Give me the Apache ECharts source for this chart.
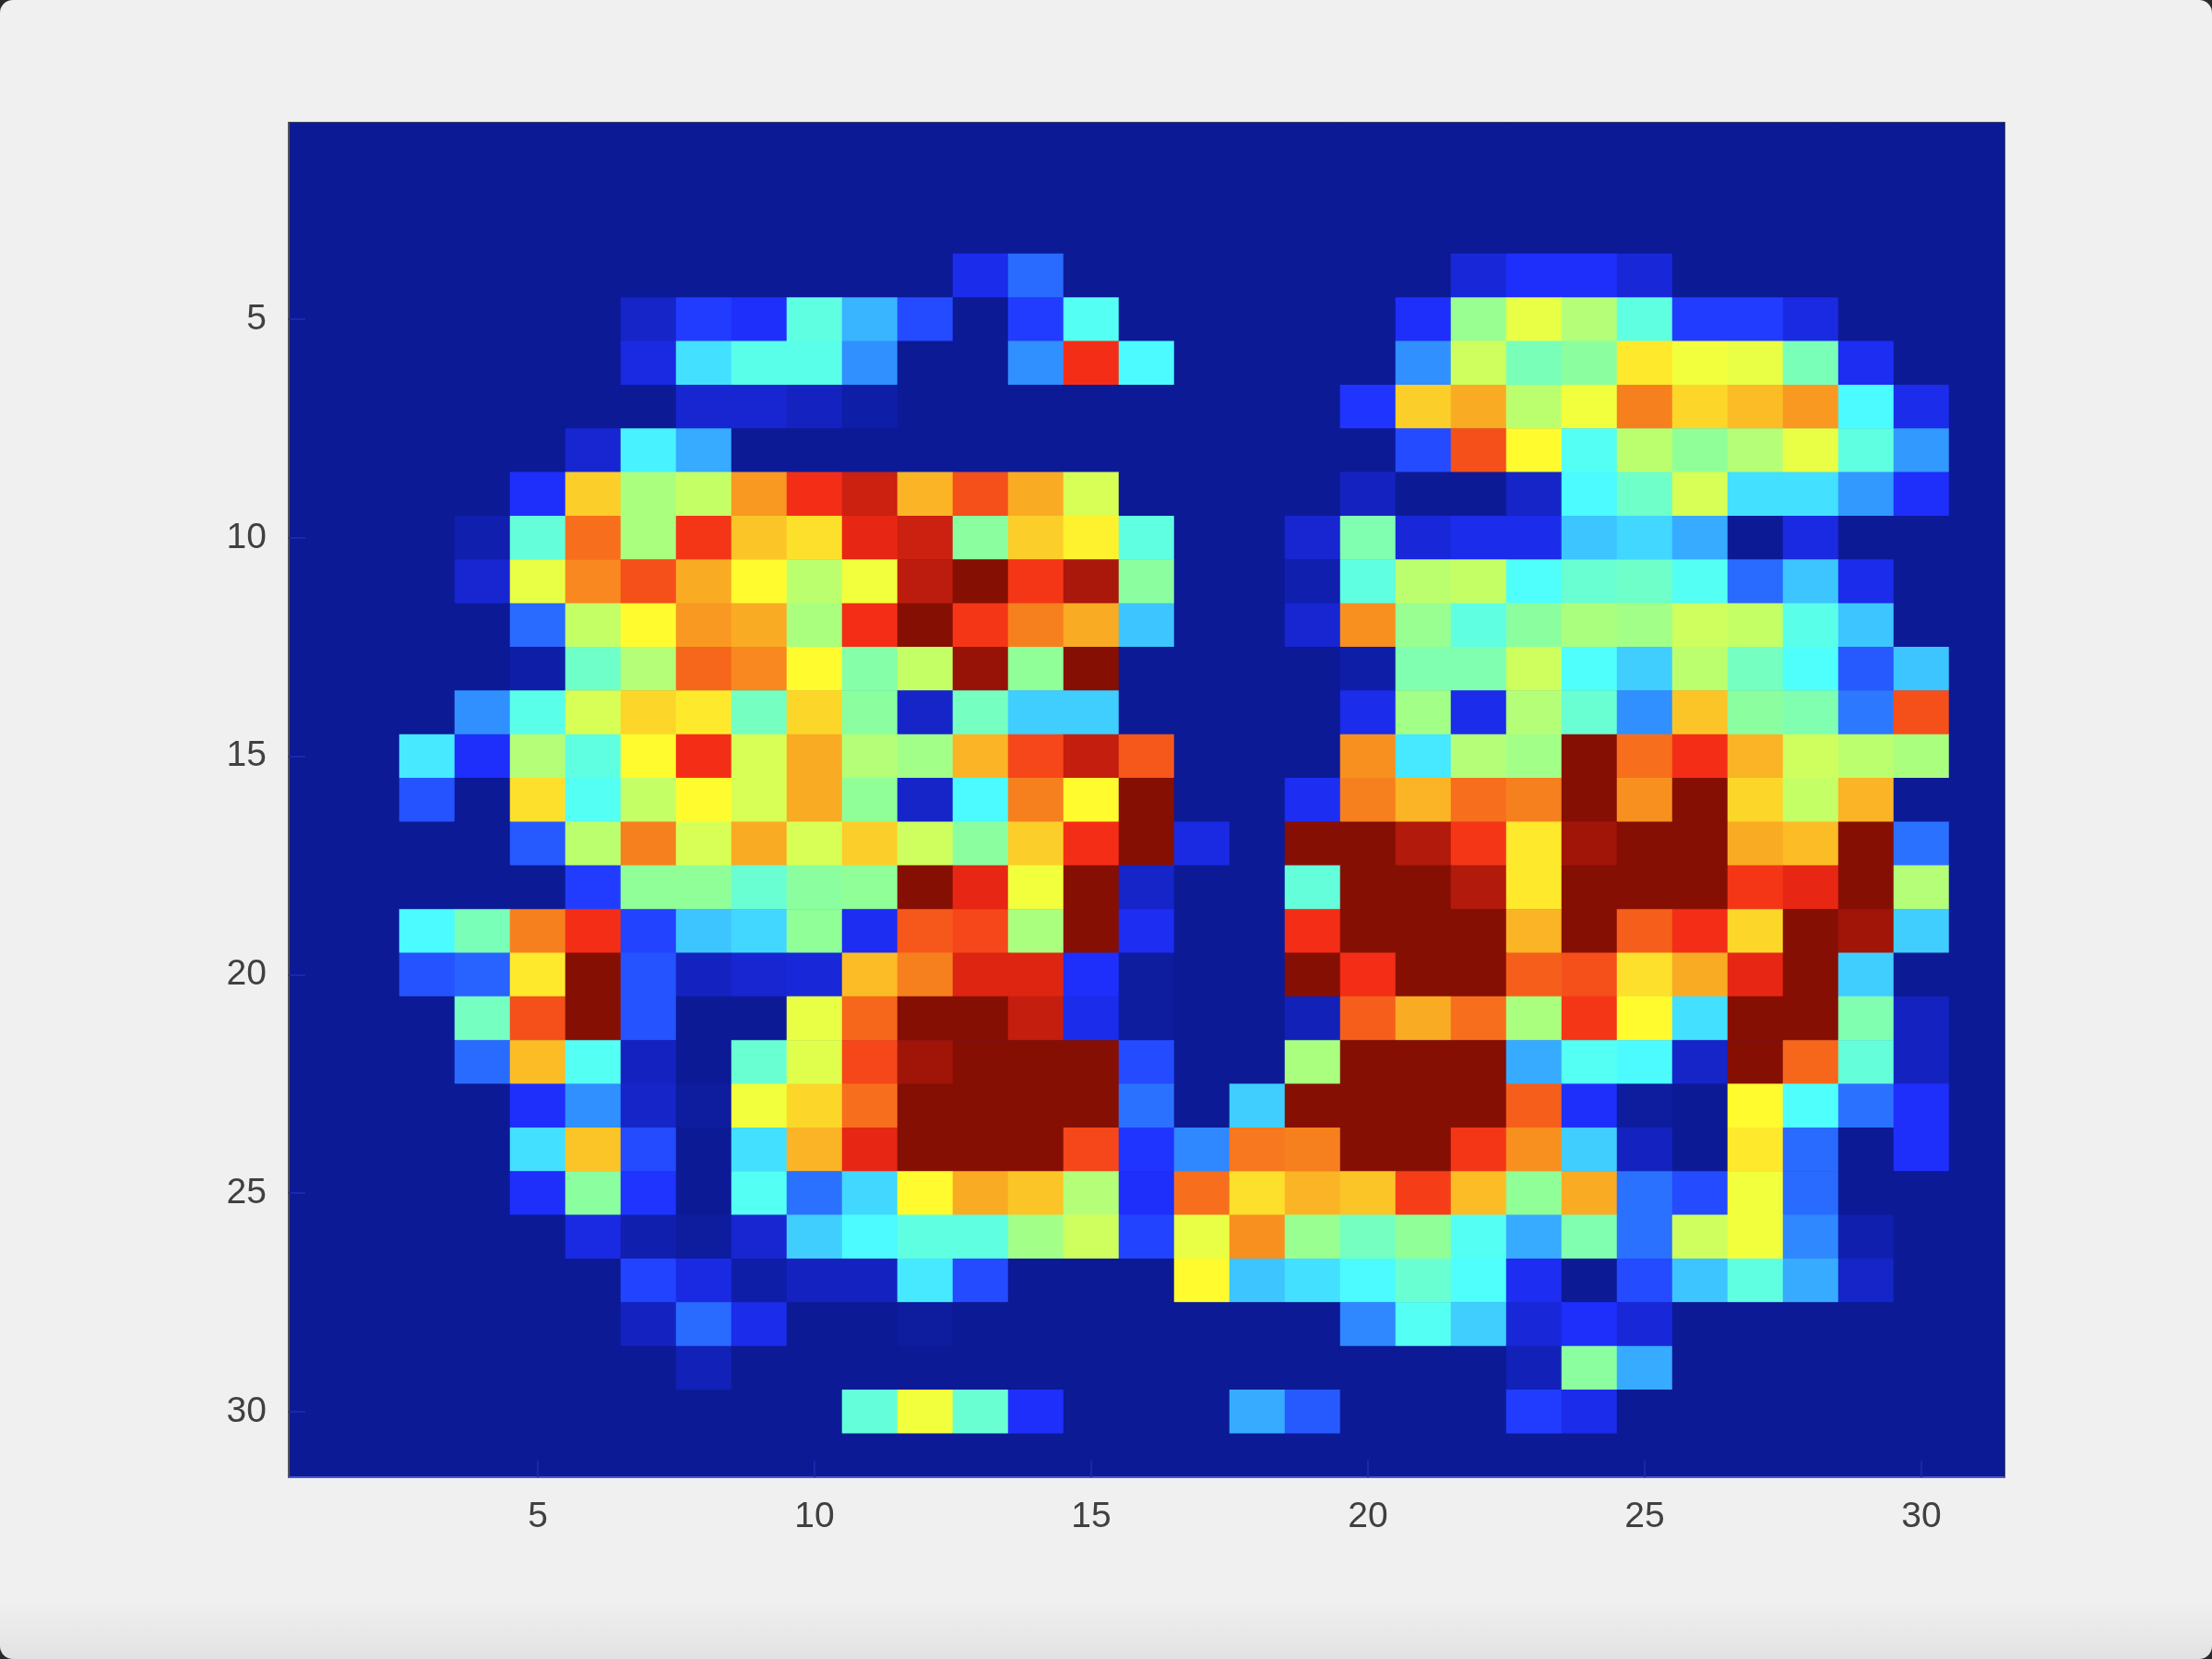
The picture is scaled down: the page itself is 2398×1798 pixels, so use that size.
<!DOCTYPE html>
<html>
<head>
<meta charset="utf-8">
<title>heatmap</title>
<script src="https://cdn.jsdelivr.net/npm/echarts@6/dist/echarts.min.js"></script>
<style>
  html { margin: 0; background: #2a2a2a; }
  body { margin: 0; width: 2398px; height: 1798px; overflow: hidden; border-radius: 14px;
    background: linear-gradient(to bottom, #f0f0f0 0, #f0f0f0 1735px, #e2e2e2 1798px); }
  #chart { width: 2398px; height: 1798px; }
</style>
</head>
<body>
<div id="chart"></div>
<script>
const xCategories = ['1','2','3','4','5','6','7','8','9','10','11','12','13','14','15','16','17','18','19','20','21','22','23','24','25','26','27','28','29','30','31']
const yCategories = ['1','2','3','4','5','6','7','8','9','10','11','12','13','14','15','16','17','18','19','20','21','22','23','24','25','26','27','28','29','30','31']
const tickLabels = ['5','10','15','20','25','30']
// jet-like colours as they look in the screenshot, low to high
const jetColors = ['#0c1a96','#1f30ff','#3090ff','#4cffff','#90ff98','#ffff30','#f89020','#f42a16','#860f04']

// one row per y, one value per x (0-100 on the colour scale)
const gridValues = [
  [0,0,0,0,0,0,0,0,0,0,0,0,0,0,0,0,0,0,0,0,0,0,0,0,0,0,0,0,0,0,0],
  [0,0,0,0,0,0,0,0,0,0,0,0,0,0,0,0,0,0,0,0,0,0,0,0,0,0,0,0,0,0,0],
  [0,0,0,0,0,0,0,0,0,0,0,0,0,0,0,0,0,0,0,0,0,0,0,0,0,0,0,0,0,0,0],
  [0,0,0,0,0,0,0,0,0,0,0,0,10,20,0,0,0,0,0,0,0,8,12,12,8,0,0,0,0,0,0],
  [0,0,0,0,0,0,6,14,12,41,29,16,0,14,39,0,0,0,0,0,12,51,60,54,41,14,14,9,0,0,0],
  [0,0,0,0,0,0,9,34,40,40,25,0,0,25,87,37,0,0,0,0,25,57,46,49,65,61,60,46,11,0,0],
  [0,0,0,0,0,0,0,7,7,5,2,0,0,0,0,0,0,0,0,13,68,72,55,61,77,67,70,74,37,10,0],
  [0,0,0,0,0,7,36,28,0,0,0,0,0,0,0,0,0,0,0,0,16,83,63,39,55,50,54,60,41,26,0],
  [0,0,0,0,12,68,53,56,74,87,92,71,83,72,58,0,0,0,0,5,0,0,6,37,44,58,34,34,26,12,0],
  [0,0,0,3,42,79,53,86,69,66,89,92,49,68,64,41,0,0,7,47,8,10,10,31,33,28,0,9,0,0,0],
  [0,0,0,7,60,76,83,72,63,55,61,94,100,86,96,49,0,0,3,41,55,56,38,43,44,39,20,31,10,0,0],
  [0,0,0,0,20,56,63,74,72,53,87,100,86,77,72,31,0,0,7,75,51,41,49,53,52,57,56,40,31,0,0],
  [0,0,0,0,2,44,54,80,76,63,48,56,98,50,100,0,0,0,0,2,47,47,57,38,32,55,45,38,18,31,0],
  [0,0,0,25,40,58,67,65,45,67,49,6,45,32,32,0,0,0,0,10,52,10,54,43,25,69,49,47,22,83,0],
  [0,0,35,12,54,41,63,87,58,72,54,52,71,84,93,82,0,0,0,75,35,54,52,100,79,87,71,57,55,53,0],
  [0,0,17,0,66,39,56,63,58,72,50,6,37,77,63,100,0,0,11,77,71,79,77,100,75,100,67,56,71,0,0],
  [0,0,0,0,18,55,77,58,72,58,68,57,49,68,87,100,9,0,100,100,95,86,65,97,100,100,72,70,100,21,0],
  [0,0,0,0,0,14,50,50,43,49,50,100,89,61,100,6,0,0,42,100,100,95,65,100,100,100,86,89,100,54,0],
  [0,0,37,46,77,87,15,31,33,50,11,82,84,53,100,11,0,0,87,100,100,100,71,100,81,87,67,100,97,32,0],
  [0,0,17,19,65,100,17,5,7,8,70,77,90,90,12,1,0,0,100,87,100,100,81,83,66,72,89,100,32,0,0],
  [0,0,0,45,83,100,17,0,0,60,80,100,100,93,10,1,0,0,4,81,72,79,53,86,63,34,100,100,47,5,0],
  [0,0,0,20,70,39,5,0,43,59,84,97,100,100,100,16,0,0,53,100,100,100,28,39,37,6,100,80,42,5,0],
  [0,0,0,0,12,25,6,1,61,67,79,100,100,100,100,21,0,32,100,100,100,100,81,12,1,0,63,38,21,12,0],
  [0,0,0,0,34,69,16,0,34,71,89,100,100,100,84,13,24,78,77,100,100,86,75,32,5,0,65,20,0,12,0],
  [0,0,0,0,12,49,13,0,39,21,33,63,72,69,54,12,79,66,71,69,85,70,50,72,21,16,61,20,0,0,0],
  [0,0,0,0,0,9,3,1,7,32,37,41,41,52,57,15,60,75,51,45,50,39,28,47,21,57,61,24,3,0,0],
  [0,0,0,0,0,0,15,9,2,5,5,35,16,0,0,0,63,31,34,37,43,38,11,0,16,31,41,28,6,0,0],
  [0,0,0,0,0,0,5,20,10,0,0,1,0,0,0,0,0,0,0,24,39,32,8,12,8,0,0,0,0,0,0],
  [0,0,0,0,0,0,0,4,0,0,0,0,0,0,0,0,0,0,0,0,0,0,4,49,28,0,0,0,0,0,0],
  [0,0,0,0,0,0,0,0,0,0,42,61,43,12,0,0,0,28,18,0,0,0,14,10,0,0,0,0,0,0,0],
  [0,0,0,0,0,0,0,0,0,0,0,0,0,0,0,0,0,0,0,0,0,0,0,0,0,0,0,0,0,0,0]
]

let heatData = []
gridValues.forEach((row, y) => {
  row.forEach((v, x) => {
    heatData.push([x, y, v])
  })
})

function showTick(index, value) {
  return tickLabels.includes(value)
}

function axisBase(data, lineColor) {
  return {
    type: 'category',
    data: data,
    z: 5,
    axisLine: { show: true, onZero: false, lineStyle: { color: lineColor, width: 2 } },
    axisTick: {
      show: true,
      inside: true,
      alignWithLabel: true,
      interval: showTick,
      length: 18,
      lineStyle: { color: '#1a28ac', width: 2 }
    },
    axisLabel: {
      show: true,
      interval: showTick,
      color: '#404040',
      fontFamily: 'Liberation Sans',
      fontSize: 39
    },
    splitLine: { show: false },
    splitArea: { show: false }
  }
}

let chart = echarts.init(document.getElementById('chart'))
let option = {
  backgroundColor: 'transparent',
  animation: false,
  grid: {
    left: 313,
    top: 133,
    width: 1860,
    height: 1468,
    show: true,
    backgroundColor: '#0c1a96',
    borderWidth: 2,
    borderColor: '#555555'
  },
  xAxis: Object.assign(axisBase(xCategories, '#4a58cc'), { position: 'bottom' }),
  yAxis: Object.assign(axisBase(yCategories, '#555555'), { inverse: true, position: 'left' }),
  visualMap: {
    show: false,
    min: 0,
    max: 100,
    inRange: { color: jetColors }
  },
  series: [
    {
      type: 'heatmap',
      data: heatData,
      progressive: 0,
      itemStyle: { borderWidth: 0 },
      emphasis: { disabled: true }
    }
  ]
}
option.xAxis.axisLabel.margin = 24
option.yAxis.axisLabel.margin = 24
option.yAxis.axisLabel.padding = [8, 0, 0, 0]
chart.setOption(option)
</script>
</body>
</html>
